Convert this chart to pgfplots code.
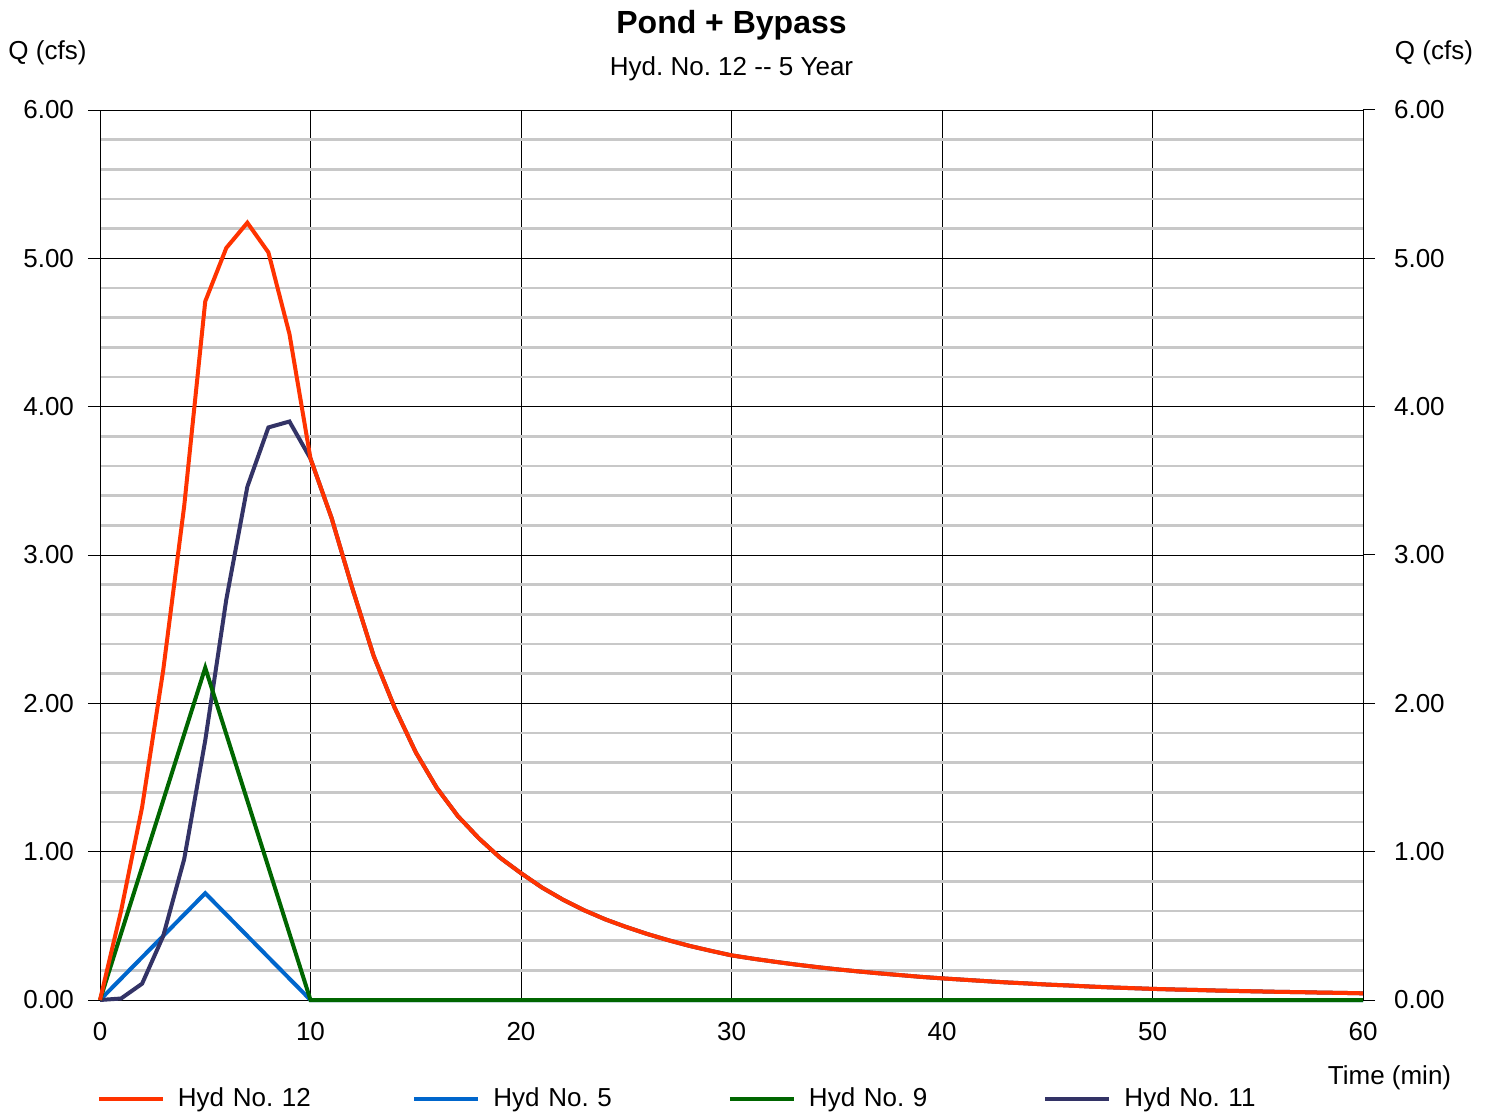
\documentclass[border=0pt]{standalone}
\usepackage{pgfplots}
\pgfplotsset{compat=1.18}
\usepackage{fontspec}
\setmainfont{Liberation Sans}
\definecolor{cRed}{RGB}{255,51,0}
\definecolor{cBlue}{RGB}{0,102,204}
\definecolor{cGreen}{RGB}{0,102,0}
\definecolor{cNavy}{RGB}{51,51,102}
\definecolor{cGrid}{RGB}{200,200,200}
\begin{document}
\frenchspacing
\begin{tikzpicture}
\useasboundingbox (-50pt,-56pt) rectangle (695.5pt,500pt);
\begin{axis}[
  at={(0,0)}, anchor=south west,
  scale only axis, width=631.5pt, height=445pt,
  xmin=0, xmax=60, ymin=0, ymax=6,
  xtick={0,10,...,60}, ytick={0,1,...,6},
  minor y tick num=4,
  xmajorgrids, ymajorgrids, yminorgrids,
  major grid style={black, line width=0.5pt},
  minor grid style={cGrid, line width=1.2pt},
  axis line style={black, line width=0.5pt},
  tick align=outside, major tick length=6pt, minor tick length=0pt,
  xtick style={draw=none}, ytick pos=left,
  ytick style={black, line width=0.5pt},
  ticklabel style={font=\fontsize{13}{15}\selectfont},
  xticklabel style={yshift=-1.5pt},
  yticklabel style={xshift=-3.5pt},
  /pgf/number format/assume math mode=true,
  yticklabel={\pgfmathprintnumber[fixed,fixed zerofill,precision=2]{\tick}},
  xticklabel={\pgfmathprintnumber[fixed,precision=0]{\tick}},
  legend columns=4,
  legend style={draw=none, fill=none, at={(-0.0024,-0.1112)}, anchor=west,
    inner sep=0pt, outer sep=0pt,
    font=\fontsize{13}{15}\selectfont,
    nodes={inner sep=0pt},
    /tikz/every odd column/.append style={column sep=6.5pt},
    /tikz/every even column/.append style={column sep=37.25pt, text width=80pt, align=left}},
  legend cell align=left,
  legend image code/.code={\draw[#1,line width=2pt] (0pt,0pt) -- (32pt,0pt);},
  clip=false,
]
\addlegendimage{cRed}\addlegendentry{Hyd No. 12}
\addlegendimage{cBlue}\addlegendentry{Hyd No. 5}
\addlegendimage{cGreen}\addlegendentry{Hyd No. 9}
\addlegendimage{cNavy}\addlegendentry{Hyd No. 11}

% Hyd No. 5
\addplot[forget plot, cBlue, line width=2pt] coordinates {(0,0)(5,0.72)(10,0)(60,0)};
% Hyd No. 11
\addplot[forget plot, cNavy, line width=2pt] coordinates {
(0,0)(1,0.01)(2,0.11)(3,0.43)(4,0.95)(5,1.75)(6,2.70)(7,3.46)(8,3.86)(9,3.90)(10,3.65)
(11,3.25)(12,2.77)(13,2.32)(14,1.97)(15,1.67)(16,1.43)(17,1.24)(18,1.09)(19,0.96)(20,0.855)
(21,0.758)(22,0.676)(23,0.605)(24,0.544)(25,0.492)(26,0.445)(27,0.403)(28,0.365)(29,0.332)(30,0.301)
(31,0.279)(32,0.259)(33,0.240)(34,0.223)(35,0.207)(36,0.193)(37,0.180)(38,0.168)(39,0.156)(40,0.146)
(41,0.137)(42,0.128)(43,0.119)(44,0.112)(45,0.104)(46,0.098)(47,0.091)(48,0.085)(49,0.080)(50,0.075)
(51,0.071)(52,0.068)(53,0.064)(54,0.061)(55,0.058)(56,0.055)(57,0.053)(58,0.050)(59,0.048)(60,0.045)};
% Hyd No. 9
\addplot[forget plot, cGreen, line width=2pt] coordinates {(0,0)(5,2.24)(10,0)(60,0)};
% Hyd No. 12
\addplot[forget plot, cRed, line width=2pt] coordinates {
(0,0)(1,0.60)(2,1.30)(3,2.22)(4,3.33)(5,4.71)(6,5.07)(7,5.24)(8,5.04)(9,4.49)(10,3.65)
(11,3.25)(12,2.77)(13,2.32)(14,1.97)(15,1.67)(16,1.43)(17,1.24)(18,1.09)(19,0.96)(20,0.855)
(21,0.758)(22,0.676)(23,0.605)(24,0.544)(25,0.492)(26,0.445)(27,0.403)(28,0.365)(29,0.332)(30,0.301)
(31,0.279)(32,0.259)(33,0.240)(34,0.223)(35,0.207)(36,0.193)(37,0.180)(38,0.168)(39,0.156)(40,0.146)
(41,0.137)(42,0.128)(43,0.119)(44,0.112)(45,0.104)(46,0.098)(47,0.091)(48,0.085)(49,0.080)(50,0.075)
(51,0.071)(52,0.068)(53,0.064)(54,0.061)(55,0.058)(56,0.055)(57,0.053)(58,0.050)(59,0.048)(60,0.045)};

\node[font=\bfseries\fontsize{16}{19}\selectfont] at (rel axis cs:0.5,1.0955) {Pond + Bypass};
\node[font=\fontsize{13}{15}\selectfont] at (rel axis cs:0.5,1.0460) {Hyd. No. 12 -{}- 5 Year};
\node[font=\fontsize{13}{15}\selectfont] at (rel axis cs:-0.0416,1.0640) {Q (cfs)};
\node[font=\fontsize{13}{15}\selectfont] at (rel axis cs:1.0562,1.0640) {Q (cfs)};
\node[font=\fontsize{13}{15}\selectfont] at (rel axis cs:1.0210,-0.0877) {Time (min)};
\end{axis}
\begin{axis}[
  at={(0,0)}, anchor=south west,
  scale only axis, width=631.5pt, height=445pt,
  xmin=0, xmax=60, ymin=0, ymax=6,
  axis x line=none, axis y line*=right,
  ytick={0,1,...,6},
  axis line style={black, line width=0.5pt},
  tick align=outside, major tick length=6pt,
  ytick style={black, line width=0.5pt},
  ticklabel style={font=\fontsize{13}{15}\selectfont},
  yticklabel style={xshift=6pt},
  /pgf/number format/assume math mode=true,
  yticklabel={\pgfmathprintnumber[fixed,fixed zerofill,precision=2]{\tick}},
]
\end{axis}
\end{tikzpicture}
\end{document}
